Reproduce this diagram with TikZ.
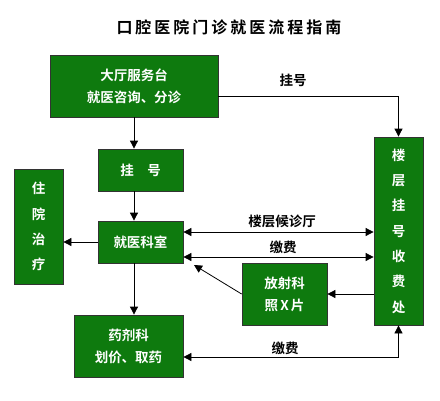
\documentclass[tikz,border=0pt]{standalone}
\usepackage{fontspec}
\setmainfont{Noto Sans CJK SC}[BoldFont={Noto Sans CJK SC Bold}]
\usetikzlibrary{arrows.meta}
\definecolor{boxgreen}{RGB}{14,122,14}
\begin{document}
\begin{tikzpicture}[x=1pt,y=-1pt,
  box/.style={draw=black!80, line width=0.8pt, fill=boxgreen, text=white,
    font=\fontsize{13.5}{22}\selectfont\bfseries, align=center, inner sep=0pt},
  vbox/.style={box, font=\fontsize{13.5}{25.3}\selectfont\bfseries},
  lbl/.style={font=\fontsize{13.5}{16}\selectfont\bfseries, text=black, inner sep=0pt},
  arr/.style={line width=0.8pt, -{Triangle[length=8pt,width=8pt]}},
  arrb/.style={line width=0.8pt, {Triangle[length=8pt,width=8pt]}-{Triangle[length=8pt,width=8pt]}}]
\useasboundingbox[fill=white] (0,0) rectangle (440,400);
\node[font=\fontsize{16}{18}\selectfont\bfseries, inner sep=0pt] (title) at (229,27)
  {口\kern3pt 腔\kern3pt 医\kern3pt 院\kern3pt 门\kern3pt 诊\kern3pt 就\kern3pt 医\kern3pt 流\kern3pt 程\kern3pt 指\kern3pt 南};
\node[box, minimum width=168pt, minimum height=62pt] (hall) at (134,86) {大厅服务台\\就医咨询、分诊};
\node[box, minimum width=85pt, minimum height=42pt] (gh) at (140.5,170) {挂\hspace{1em}号};
\node[box, minimum width=85pt, minimum height=42pt] (ks) at (140.5,242) {就医科室};
\node[vbox, minimum width=49pt, minimum height=115pt] (zy) at (38.5,226.5) {住\\院\\治\\疗};
\node[vbox, minimum width=49pt, minimum height=188pt] (sf) at (398.5,231) {楼\\层\\挂\\号\\收\\费\\处};
\node[box, minimum width=85pt, minimum height=62pt] (fs) at (284.5,294) {放射科\\照\,X\,片};
\node[box, minimum width=109pt, minimum height=62pt] (yj) at (128.5,346) {药剂科\\划价、取药};
\coordinate (fsk) at (194,265);
\node[lbl] (l1) at (293,80) {挂号};
\node[lbl] (l2) at (282,221) {楼层候诊厅};
\node[lbl] (l3) at (283,247) {缴费};
\node[lbl] (l4) at (285,348) {缴费};
\draw[arr] (hall.south) -- (hall.south |- gh.north);
\draw[arr] (gh.south -| hall.south) -- (ks.north -| hall.south);
\draw[arr] (ks.south -| hall.south) -- (yj.north -| hall.south);
\draw[arr] ([yshift=-10pt]hall.east) -| (sf.north);
\draw[arr] (ks.west) -- (ks.west -| zy.east);
\draw[arrb] ([yshift=10pt]ks.east) -- ([yshift=10pt]ks.east -| sf.west);
\draw[arrb] ([yshift=-15pt]ks.east) -- ([yshift=-15pt]ks.east -| sf.west);
\draw[arr] (fs.west) -- (fsk);
\draw[arr] (sf.west |- fs.east) -- (fs.east);
\draw[arrb] ([yshift=-11pt]yj.east) -| (sf.south);
\end{tikzpicture}
\end{document}
